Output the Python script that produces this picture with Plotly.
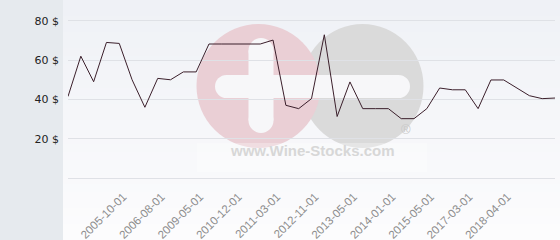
import plotly.graph_objects as go

# ---- data ----
prices = [41.5, 62, 49, 69, 68.5, 50, 36, 50.7, 50, 54, 54, 68.2, 68.2, 68.2, 68.2, 68.2,
          70.2, 37, 35.3, 40.4, 72.9, 31.3, 48.9, 35.3, 35.3, 35.3, 30.2, 30.2, 35.3, 45.8,
          44.9, 44.9, 35.3, 49.9, 49.9, 45.8, 41.9, 40.4, 40.7]
points = list(range(len(prices)))
tick_labels = ["2005-10-01", "2006-08-01", "2009-05-01", "2010-12-01", "2011-03-01",
               "2012-11-01", "2013-05-01", "2014-01-01", "2015-05-01", "2017-03-01",
               "2018-04-01"]
tick_points = [4, 7, 10, 13, 16, 19, 22, 25, 28, 31, 34]
y_ticks = [20, 40, 60, 80]
y_labels = [f"{v} $" for v in y_ticks]

# ---- layout geometry (pixels) ----
W, H = 560, 240
ML, MR, MT, MB = 68, 5, 0, 62
AX, AY = ML, H - MB  # anchor pixel of paper (0,0)
LABEL_SHIFT = 0.3    # horizontal nudge of rotated tick labels (in category steps)


def pshape(kind, x0, y0, x1, y1, color, **kw):
    # pixel-space shape relative to paper origin; input in screen px (y down)
    return dict(type=kind, xref="paper", yref="paper", xsizemode="pixel", ysizemode="pixel",
                xanchor=0, yanchor=0, x0=x0 - AX, x1=x1 - AX, y0=AY - y0, y1=AY - y1,
                fillcolor=color, line=dict(width=0), layer="below", **kw)


shapes = []
# background gradient
n = 30
c0 = (239, 241, 246)
c1 = (252, 252, 253)
for i in range(n):
    t = i / (n - 1)
    c = tuple(round(a + (b - a) * t) for a, b in zip(c0, c1))
    shapes.append(pshape("rect", 63, H * i / n, W, H * (i + 1) / n + 0.5, f"rgb{c}"))
# left strip
shapes.append(pshape("rect", 0, 0, 63, H, "#e6eaee"))

# watermark
shapes.append(pshape("circle", 362.5 - 61, 86 - 62, 362.5 + 61, 86 + 62, "#dadada"))
shapes.append(pshape("circle", 258.5 - 62, 86 - 62, 258.5 + 62, 86 + 62, "#eacfd5"))
wc = "#f7f7f9"
r = 11.5
shapes.append(pshape("rect", 215 + r, 75, 410 - r, 98, wc))
shapes.append(pshape("circle", 215, 75, 215 + 2 * r, 98, wc))
shapes.append(pshape("circle", 410 - 2 * r, 75, 410, 98, wc))
rv = 12.5
shapes.append(pshape("rect", 248.5, 38 + rv, 273.5, 133 - rv, wc))
shapes.append(pshape("circle", 248.5, 38, 273.5, 38 + 2 * rv, wc))
shapes.append(pshape("circle", 248.5, 133 - 2 * rv, 273.5, 133, wc))
shapes.append(pshape("rect", 197, 143, 427, 172, "rgba(255,255,255,0.3)"))

fig = go.Figure()
fig.add_trace(go.Scatter(x=points, y=prices, mode="lines",
                         line=dict(color="#3b1f2b", width=1), hoverinfo="skip"))

annotations = [
    dict(text="<b>www.Wine-Stocks.com</b>", xref="paper", yref="paper",
         x=(312 - AX) / (W - ML - MR), y=(AY - 160.7) / (H - MT - MB),
         showarrow=False, font=dict(family="Liberation Sans, Arial", size=15, color="#d7d7d7")),
    dict(text="®", xref="paper", yref="paper",
         x=(412.7 - AX) / (W - ML - MR), y=(AY - 139.3) / (H - MT - MB),
         showarrow=False, font=dict(family="Liberation Sans, Arial", size=13, color="#c9c9c9")),
]

fig.update_layout(
    width=W, height=H, margin=dict(l=ML, r=MR, t=MT, b=MB),
    paper_bgcolor="white", plot_bgcolor="rgba(0,0,0,0)",
    showlegend=False, shapes=shapes, annotations=annotations,
    xaxis=dict(range=[0, len(prices) - 1], showgrid=False, zeroline=False, showline=False,
               tickmode="array", tickvals=[p + LABEL_SHIFT for p in tick_points],
               ticktext=tick_labels, tickangle=-45,
               tickfont=dict(family="Liberation Sans, Arial", size=11.5, color="#8c8c8c"),
               ticks="", ticklabelstandoff=9),
    yaxis=dict(range=[0, 90.6], tickmode="array", tickvals=y_ticks, ticktext=y_labels,
               showgrid=True, gridcolor="#dfe1e6", gridwidth=1,
               zeroline=True, zerolinecolor="#dfe1e6", zerolinewidth=1,
               showline=False, ticks="", ticklabelstandoff=8,
               tickfont=dict(family="DejaVu Sans", size=11, color="#222222")),
)

fig.write_html("out.html")
